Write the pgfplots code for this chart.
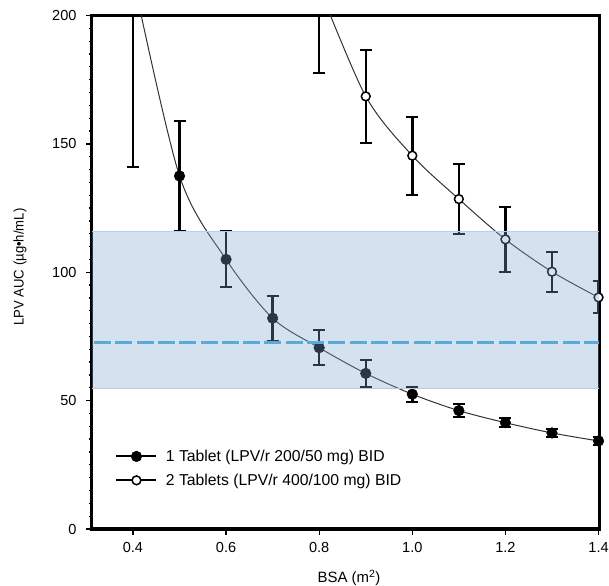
\documentclass[border=0pt]{standalone}
\usepackage{fontspec}
\setmainfont{Liberation Sans}
\newfontfamily\narrowsans{Liberation Sans}[FakeStretch=0.94]
\usepackage{pgfplots}
\pgfplotsset{compat=1.18}
\definecolor{bandfill}{HTML}{7DA7D1}
\definecolor{bandtop}{HTML}{B6CFE6}
\definecolor{bandbot}{HTML}{C4C8CE}
\definecolor{dashblue}{HTML}{5AAAD8}
\definecolor{curve}{HTML}{333333}

\begin{document}
\begin{tikzpicture}
\useasboundingbox (-92bp,-57bp) rectangle (517bp,529bp);
\begin{axis}[
    scale only axis,
    width=507bp, height=513.5bp,
    xmin=0.312, xmax=1.401,
    ymin=0, ymax=200,
    xtick={0.4,0.6,...,1.4},
    ytick={0,50,...,200},
    minor y tick num=9,
    xticklabel style={/pgf/number format/fixed,/pgf/number format/fixed zerofill,
        /pgf/number format/precision=1, yshift=-4bp},
    yticklabel style={xshift=-6bp},
    /pgf/number format/assume math mode=true,
    tick label style={font=\fontsize{14.6}{16}\selectfont},
    xtick pos=bottom, ytick pos=left,
    tick align=outside,
    major tick length=6bp, minor tick length=3bp,
    tick style={line width=1.3bp, black},
    axis line style={line width=3bp},
    xlabel={BSA (m\textsuperscript{2})},
    ylabel={LPV AUC (µg•h/mL)},
    xlabel style={font=\fontsize{15}{17}\selectfont, at={(axis description cs:0.507,-0.095)}, anchor=center},
    ylabel style={font=\narrowsans\fontsize{14}{16}\selectfont, at={(axis description cs:-0.142,0.51)}, anchor=center},
    clip mode=individual,
    legend style={at={(0.04,0.162)}, anchor=north west, draw=none, fill=none,
        font=\fontsize{15.8}{18}\selectfont, row sep=7bp},
    legend cell align=left,
    legend image code/.code={
        \draw[black, line width=2bp] (0bp,0bp) -- (40bp,0bp);
        \draw[#1] plot coordinates {(20bp,0bp)};
        \path (47bp,0bp);},
]
% 1 tablet
\addplot[curve, line width=1bp, smooth, mark=*,
    mark options={black, fill=black, mark size=5.3bp, line width=0.5bp},
    error bars/.cd, y dir=both, y explicit,
    error bar style={line width=2.5bp, black},
    error mark options={rotate=90, mark size=6bp, line width=2bp, black}]
coordinates {
(0.4,215) +- (0,74)
(0.5,137.5) +- (0,21.4)
(0.6,105.0) +- (0,10.9)
(0.7,82.1) +- (0,8.7)
(0.8,70.6) +- (0,6.8)
(0.9,60.6) +- (0,5.2)
(1.0,52.5) +- (0,3.0)
(1.1,46.1) +- (0,2.4)
(1.2,41.4) +- (0,1.8)
(1.3,37.4) +- (0,1.6)
(1.4,34.3) +- (0,1.7)
};
\addlegendentry{1 Tablet (LPV/r 200/50 mg) BID}
% 2 tablets
\addplot[curve, line width=1bp, smooth, mark=*,
    mark options={black, fill=white, mark size=4.4bp, line width=1.5bp},
    error bars/.cd, y dir=both, y explicit,
    error bar style={line width=2.5bp, black},
    error mark options={rotate=90, mark size=6bp, line width=2bp, black}]
coordinates {
(0.8,211) +- (0,33.5)
(0.9,168.5) +- (0,18.0)
(1.0,145.4) +- (0,15.2)
(1.1,128.5) +- (0,13.7)
(1.2,112.8) +- (0,12.8)
(1.3,100.2) +- (0,7.8)
(1.4,90.2) +- (0,6.2)
};
\addlegendentry{2 Tablets (LPV/r 400/100 mg) BID}
% reference band
\addplot[forget plot, draw=none, fill=bandfill, fill opacity=0.33]
coordinates {(0.312,54.8) (1.401,54.8) (1.401,116.1) (0.312,116.1)} -- cycle;
\addplot[forget plot, bandtop, line width=0.8bp] coordinates {(0.312,116.1) (1.401,116.1)};
\addplot[forget plot, bandbot, line width=1bp] coordinates {(0.312,54.8) (1.401,54.8)};
\addplot[forget plot, dashblue, line width=3.6bp, dash pattern=on 17bp off 4.3bp, dash phase=-2bp]
coordinates {(0.312,72.6) (1.401,72.6)};
\end{axis}
\end{tikzpicture}
\end{document}
